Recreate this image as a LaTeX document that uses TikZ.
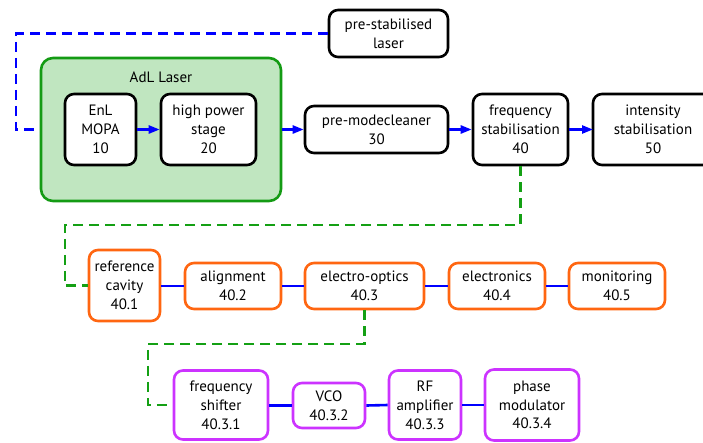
\documentclass[tikz,border=0pt]{standalone}
\usepackage{fontspec}
\setmainfont{PT Sans}
\usetikzlibrary{arrows.meta}
\definecolor{adlfill}{RGB}{192,230,192}
\definecolor{adlgreen}{RGB}{20,155,20}
\definecolor{dgreen}{RGB}{20,160,20}
\definecolor{lblue}{RGB}{0,0,255}
\definecolor{orng}{RGB}{255,102,17}
\definecolor{purp}{RGB}{204,51,255}
\tikzset{
  bx/.style={draw=black, rounded corners=9pt, line width=2.6pt, align=center, inner sep=0pt, font=\fontsize{15}{18.8}\selectfont, fill=white},
  obx/.style={bx, draw=orng},
  pbx/.style={bx, draw=purp},
  arr/.style={draw=lblue, line width=2.4pt, -{Triangle[length=11pt,width=8pt]}},
  lnk/.style={draw=lblue, line width=2.6pt},
  bdash/.style={draw=lblue, line width=2.5pt, dash pattern=on 10pt off 6pt},
  gdash/.style={draw=dgreen, line width=2.5pt, dash pattern=on 10pt off 6pt},
}
\begin{document}
\begin{tikzpicture}[x=1pt,y=-1pt]
\clip (0,0) rectangle (703,442);
\fill[white] (0,0) rectangle (703,442);
% AdL box
\node[draw=adlgreen, fill=adlfill, line width=2.6pt, rounded corners=12pt, minimum width=240pt, minimum height=143pt, inner sep=0pt] (adl) at (161,129.5) {};
\node[font=\fontsize{15}{18.8}\selectfont] (adlt) at (161,77) {AdL Laser};
\node[bx, minimum width=71pt, minimum height=71pt] (mopa) at (100.5,129.5) {EnL\\MOPA\\10};
\node[bx, minimum width=95pt, minimum height=71pt] (hps) at (208.5,129.5) {high power\\stage\\20};
\node[bx, minimum width=143pt, minimum height=47pt] (pmc) at (376.5,129.5) {pre-modecleaner\\30};
\node[bx, minimum width=119pt, minimum height=47pt] (psl) at (388.5,33.5) {pre-stabilised\\laser};
\node[bx, minimum width=95pt, minimum height=71pt] (fs) at (520.5,129.5) {frequency\\stabilisation\\40};
\node[bx, minimum width=120pt, minimum height=71pt, text width=110pt] (is) at (653,129.5) {intensity\\stabilisation\\50};
\coordinate (is-w) at (593,129.5);
% row 2
\node[obx, minimum width=71pt, minimum height=71pt] (rc) at (124.5,285.5) {reference\\cavity\\40.1};
\node[obx, minimum width=96pt, minimum height=46pt] (al) at (233,286) {alignment\\40.2};
\node[obx, minimum width=119pt, minimum height=46pt] (eo) at (364.5,286) {electro-optics\\40.3};
\node[obx, minimum width=96pt, minimum height=46pt] (el) at (497,286) {electronics\\40.4};
\node[obx, minimum width=96pt, minimum height=46pt] (mo) at (617,286) {monitoring\\40.5};
% row 3
\node[pbx, minimum width=94pt, minimum height=69pt] (fsh) at (221,405) {frequency\\shifter\\40.3.1};
\node[pbx, minimum width=72pt, minimum height=45pt] (vco) at (329,405.5) {VCO\\40.3.2};
\node[pbx, minimum width=72pt, minimum height=69pt] (rf) at (425,405) {RF\\amplifier\\40.3.3};
\node[pbx, minimum width=94pt, minimum height=71pt] (pm) at (532,405) {phase\\modulator\\40.3.4};
% connectors top
\draw[bdash] (psl.west) -- (16,33.5) -- (16,129.5) -- (adl.west);
\draw[arr] (mopa.east) -- (hps.west);
\draw[arr] (adl.east) -- (pmc.west);
\draw[arr] (pmc.east) -- (fs.west);
\draw[arr] (fs.east) -- (is-w);
% green dashed
\draw[gdash] (fs.south) -- (520.5,225) -- (65,225) -- (65,285.5) -- (rc.west);
\draw[gdash] (eo.south) -- (364.5,344) -- (148,344) -- (148,405) -- (fsh.west);
% row links
\draw[lnk] (rc.east |- al.west) -- (al.west);
\draw[lnk] (al.east) -- (eo.west);
\draw[lnk] (eo.east) -- (el.west);
\draw[lnk] (el.east) -- (mo.west);
\draw[lnk] (fsh.east |- vco.west) -- (vco.west);
\draw[lnk] (vco.east) -- (rf.west);
\draw[lnk] (rf.east |- pm.west) -- (pm.west);
\end{tikzpicture}
\end{document}
